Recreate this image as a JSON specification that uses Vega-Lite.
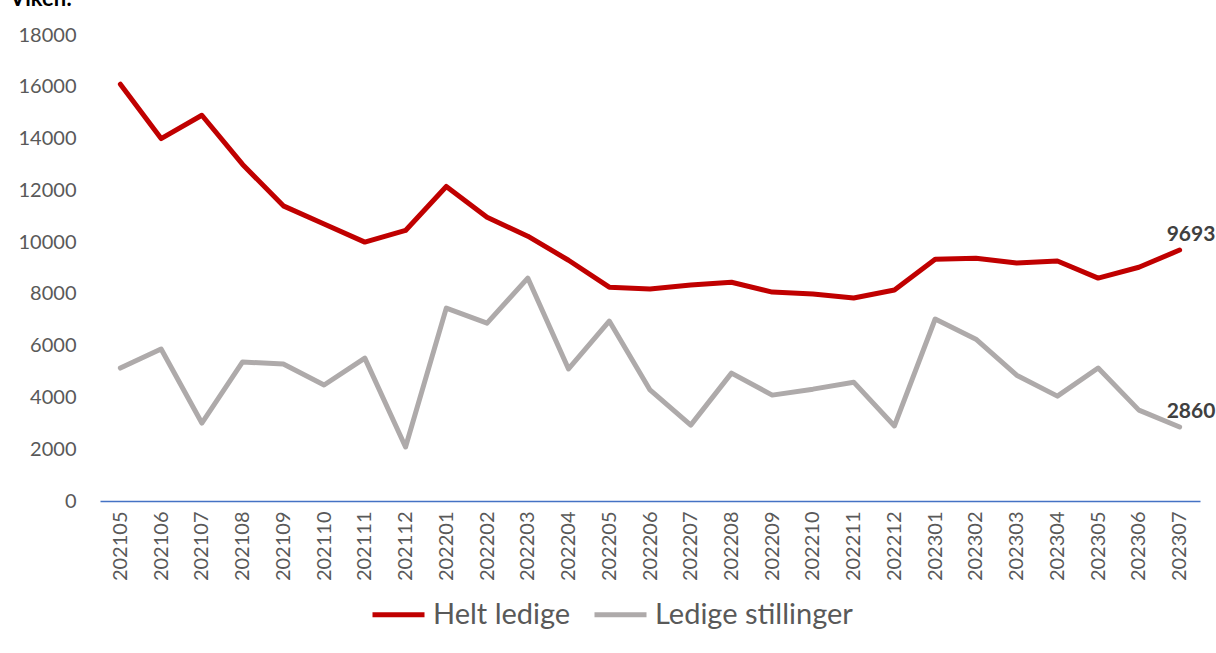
{
  "$schema": "https://vega.github.io/schema/vega-lite/v6.json",
  "width": 1100,
  "height": 466,
  "autosize": {"type": "none"},
  "padding": {"left": 100, "top": 35, "right": 16, "bottom": 152},
  "background": "white",
  "title": {
    "text": "Viken:",
    "anchor": "start",
    "frame": "group",
    "dx": -90,
    "offset": 14,
    "fontSize": 22,
    "font": "Lato",
    "fontWeight": "bold",
    "color": "#000000"
  },
  "config": {
    "view": {"stroke": null},
    "font": "Lato"
  },
  "data": {
    "values": [
      {"month": "202105", "series": "Helt ledige", "value": 16100},
      {"month": "202106", "series": "Helt ledige", "value": 14000},
      {"month": "202107", "series": "Helt ledige", "value": 14900},
      {"month": "202108", "series": "Helt ledige", "value": 13000},
      {"month": "202109", "series": "Helt ledige", "value": 11400},
      {"month": "202110", "series": "Helt ledige", "value": 10700},
      {"month": "202111", "series": "Helt ledige", "value": 10000},
      {"month": "202112", "series": "Helt ledige", "value": 10450},
      {"month": "202201", "series": "Helt ledige", "value": 12150},
      {"month": "202202", "series": "Helt ledige", "value": 10960},
      {"month": "202203", "series": "Helt ledige", "value": 10230},
      {"month": "202204", "series": "Helt ledige", "value": 9300},
      {"month": "202205", "series": "Helt ledige", "value": 8260},
      {"month": "202206", "series": "Helt ledige", "value": 8190},
      {"month": "202207", "series": "Helt ledige", "value": 8340},
      {"month": "202208", "series": "Helt ledige", "value": 8450},
      {"month": "202209", "series": "Helt ledige", "value": 8070},
      {"month": "202210", "series": "Helt ledige", "value": 8000},
      {"month": "202211", "series": "Helt ledige", "value": 7840},
      {"month": "202212", "series": "Helt ledige", "value": 8150},
      {"month": "202301", "series": "Helt ledige", "value": 9340},
      {"month": "202302", "series": "Helt ledige", "value": 9380},
      {"month": "202303", "series": "Helt ledige", "value": 9190},
      {"month": "202304", "series": "Helt ledige", "value": 9270},
      {"month": "202305", "series": "Helt ledige", "value": 8610},
      {"month": "202306", "series": "Helt ledige", "value": 9030},
      {"month": "202307", "series": "Helt ledige", "value": 9693},
      {"month": "202105", "series": "Ledige stillinger", "value": 5135},
      {"month": "202106", "series": "Ledige stillinger", "value": 5870},
      {"month": "202107", "series": "Ledige stillinger", "value": 3010},
      {"month": "202108", "series": "Ledige stillinger", "value": 5370},
      {"month": "202109", "series": "Ledige stillinger", "value": 5290},
      {"month": "202110", "series": "Ledige stillinger", "value": 4480},
      {"month": "202111", "series": "Ledige stillinger", "value": 5520},
      {"month": "202112", "series": "Ledige stillinger", "value": 2085},
      {"month": "202201", "series": "Ledige stillinger", "value": 7450},
      {"month": "202202", "series": "Ledige stillinger", "value": 6870},
      {"month": "202203", "series": "Ledige stillinger", "value": 8610},
      {"month": "202204", "series": "Ledige stillinger", "value": 5100},
      {"month": "202205", "series": "Ledige stillinger", "value": 6950},
      {"month": "202206", "series": "Ledige stillinger", "value": 4290},
      {"month": "202207", "series": "Ledige stillinger", "value": 2930},
      {"month": "202208", "series": "Ledige stillinger", "value": 4940},
      {"month": "202209", "series": "Ledige stillinger", "value": 4090},
      {"month": "202210", "series": "Ledige stillinger", "value": 4320},
      {"month": "202211", "series": "Ledige stillinger", "value": 4590},
      {"month": "202212", "series": "Ledige stillinger", "value": 2900},
      {"month": "202301", "series": "Ledige stillinger", "value": 7030},
      {"month": "202302", "series": "Ledige stillinger", "value": 6250},
      {"month": "202303", "series": "Ledige stillinger", "value": 4860},
      {"month": "202304", "series": "Ledige stillinger", "value": 4050},
      {"month": "202305", "series": "Ledige stillinger", "value": 5135},
      {"month": "202306", "series": "Ledige stillinger", "value": 3510},
      {"month": "202307", "series": "Ledige stillinger", "value": 2860}
    ]
  },
  "encoding": {
    "x": {
      "field": "month",
      "type": "ordinal",
      "scale": {"type": "point", "padding": 0.5},
      "axis": {
        "title": null,
        "labelAngle": -90,
        "labelAlign": "right",
        "labelBaseline": "middle",
        "labelFontSize": 20,
        "labelColor": "#595959",
        "labelPadding": 10,
        "ticks": false,
        "domainColor": "#4472C4",
        "domainWidth": 1.5,
        "grid": false
      }
    },
    "y": {
      "field": "value",
      "type": "quantitative",
      "scale": {"domain": [0, 18000], "nice": false},
      "axis": {
        "title": null,
        "values": [0, 2000, 4000, 6000, 8000, 10000, 12000, 14000, 16000, 18000],
        "format": "d",
        "labelFontSize": 20,
        "labelColor": "#595959",
        "labelPadding": 24,
        "ticks": false,
        "domain": false,
        "grid": false
      }
    },
    "color": {
      "field": "series",
      "type": "nominal",
      "scale": {"domain": ["Helt ledige", "Ledige stillinger"], "range": ["#C00000", "#AEAAAA"]},
      "legend": {
        "title": null,
        "orient": "none",
        "direction": "horizontal",
        "legendX": 270,
        "legendY": 551,
        "symbolType": "stroke",
        "symbolSize": 2704,
        "symbolStrokeWidth": 5,
        "labelFontSize": 29,
        "labelColor": "#595959",
        "labelOffset": 6,
        "labelLimit": 400,
        "columnPadding": 13,
        "padding": 0
      }
    }
  },
  "layer": [
    {
      "mark": {"type": "line", "strokeWidth": 5, "strokeCap": "round", "strokeJoin": "round"}
    },
    {
      "transform": [{"filter": "datum.month == '202307'"}],
      "mark": {"type": "text", "align": "left", "baseline": "alphabetic", "dx": -13, "dy": -9, "fontSize": 21, "fontWeight": "bold"},
      "encoding": {
        "text": {"field": "value", "type": "quantitative", "format": "d"},
        "color": {"value": "#404040"}
      }
    }
  ]
}
